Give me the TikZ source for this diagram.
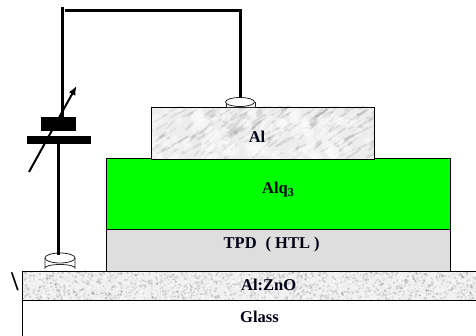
\documentclass[tikz,border=0pt]{standalone}
\usepackage{fontspec}
\usetikzlibrary{arrows.meta}
\setmainfont{Liberation Serif}
\tikzset{
  layer/.style={draw=black,line width=1pt,anchor=north west,inner sep=0pt,outer sep=0pt},
  lbl/.style={inner sep=0pt,font=\fontsize{16.5}{16.5}\selectfont\bfseries,text=black!92!blue},
  wire/.style={draw=black,line width=3pt},
  plate/.style={fill=black,draw=none,inner sep=0pt,outer sep=0pt},
  elec/.style={draw=black!85,line width=.8pt,fill=white},
}
\begin{document}
\begin{tikzpicture}[x=1pt,y=-1pt]
\useasboundingbox (0,0) rectangle (476,336);
\pgfmathsetseed{42}
% glass
\coordinate (gt) at (22.3,300.5);
\coordinate (gb) at (22.3,336);
\coordinate (gr) at (476,300.5);
% Al:ZnO texture
\fill[black!6] (22,271) rectangle (476,300);
\begin{scope}
\clip (22,271) rectangle (476,300);
\foreach \i in {1,...,1500}{
  \pgfmathsetmacro{\px}{22+454*rnd}
  \pgfmathsetmacro{\py}{271+29*rnd}
  \pgfmathsetmacro{\pa}{0.05+0.1*rnd}
  \fill[black,opacity=\pa] (\px,\py) circle[radius=1.2];
}
\foreach \i in {1,...,800}{
  \pgfmathsetmacro{\px}{22+454*rnd}
  \pgfmathsetmacro{\py}{271+29*rnd}
  \fill[white,opacity=.5] (\px,\py) circle[radius=1.2];
}
\end{scope}
\node[layer,minimum width=454pt,minimum height=29pt] (zno) at (22.3,271.5) {};
\draw[line width=1pt] (gt) -- (gr);
\draw[line width=1pt] (gt) -- (gb);
% TPD and Alq3
\node[layer,fill=black!13,minimum width=343.5pt,minimum height=42pt] (tpd) at (106.8,229.5) {};
\node[layer,fill=green,minimum width=343.5pt,minimum height=70.5pt] (alq) at (106.8,159) {};
% Al marble
\fill[black!7] (152,107) rectangle (374,159);
\begin{scope}
\clip (152,107) rectangle (374,159);
\foreach \i in {1,...,170}{
  \pgfmathsetmacro{\px}{152+222*rnd}
  \pgfmathsetmacro{\py}{107+52*rnd}
  \pgfmathsetmacro{\pl}{6+18*rnd}
  \pgfmathsetmacro{\pw}{0.6+2.2*rnd}
  \pgfmathsetmacro{\pd}{25+25*rnd}
  \draw[black,opacity=.09,line width=\pw pt,line cap=round] (\px,\py) -- ++(-\pd:\pl);
}
\foreach \i in {1,...,110}{
  \pgfmathsetmacro{\px}{152+222*rnd}
  \pgfmathsetmacro{\py}{107+52*rnd}
  \pgfmathsetmacro{\pr}{3+4*rnd}
  \fill[white,opacity=.4] (\px,\py) circle[radius=\pr];
}
\end{scope}
\node[layer,minimum width=222.5pt,minimum height=52pt] (al) at (151.8,107.3) {};
% labels
\node[lbl] (lal) at (257,136.5) {Al};
\node[lbl,anchor=west] (lalq) at (262,190) {Alq\raisebox{-2.5pt}{\fontsize{12}{12}\selectfont 3}};
\node[lbl,anchor=west] (ltpd) at (223.5,244.5) {TPD\hspace{9pt}(\hspace{4pt}HTL\hspace{4pt})};
\node[lbl,anchor=west] (lzno) at (241,285) {Al:ZnO};
\node[lbl,anchor=west] (lgl) at (240,317) {Glass};
\node[inner sep=0pt,font=\fontsize{27}{27}\selectfont\bfseries] (bs) at (15,282) {\textbackslash};
% electrodes
\coordinate (e1c) at (60,258);
\coordinate (e2c) at (240,102);
\draw[elec] (45,258) -- (45,268) arc[start angle=180,end angle=360,x radius=15,y radius=3.5] -- (75,258);
\draw[elec] (e1c) ellipse[x radius=15,y radius=5];
\draw[elec] (226,102) -- (226,107) -- (255,107) -- (255,102);
\draw[elec] (e2c) ellipse[x radius=14.5,y radius=4.5];
% battery
\node[plate,minimum width=35pt,minimum height=14pt,anchor=north west] (bt) at (41,117) {};
\node[plate,minimum width=64pt,minimum height=8pt,anchor=north west] (bb) at (27,136) {};
% wires
\coordinate (tl) at (62.5,7);
\coordinate (th1) at (64.5,10.5);
\coordinate (th2) at (241.5,10.5);
\coordinate (el1) at (58.5,255);
\draw[wire] (tl) -- (62.5,118);
\draw[wire] (th1) -- (th2);
\draw[wire] (240,9) -- (e2c |- 0,98);
\draw[wire] (bb.south -| el1) -- (el1);
% variable arrow
\coordinate (a1) at (29,172);
\coordinate (a2) at (76.5,86);
\draw[black,line width=2pt,-{Latex[length=9pt,width=7.5pt]}] (a1) -- (a2);
\end{tikzpicture}
\end{document}
